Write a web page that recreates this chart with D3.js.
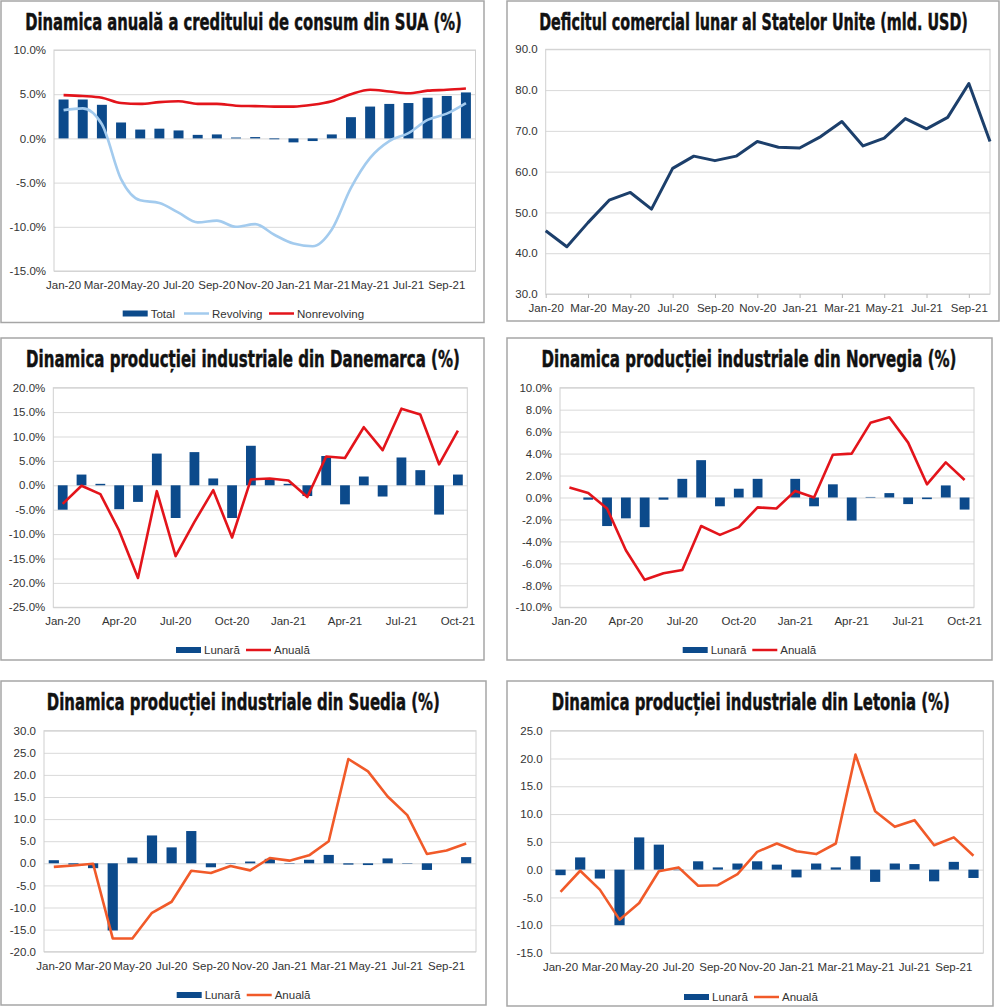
<!DOCTYPE html>
<html>
<head>
<meta charset="utf-8">
<script src="https://cdn.jsdelivr.net/npm/d3@7"></script>
<style>
body { margin: 0; background: #fff; }
text { font-family: "Liberation Sans", Arial, sans-serif; }
.title { font-family: "Liberation Sans Narrow", "DejaVu Sans Condensed", "Liberation Sans", sans-serif; font-weight: bold; fill: #111; }
</style>
</head>
<body>
<svg id="chart" width="1000" height="1007"></svg>
<script>
// months shown on every chart (Jan-20 .. Oct-21)
const months = ["Jan-20","Feb-20","Mar-20","Apr-20","May-20","Jun-20","Jul-20","Aug-20","Sep-20","Oct-20","Nov-20","Dec-20",
                "Jan-21","Feb-21","Mar-21","Apr-21","May-21","Jun-21","Jul-21","Aug-21","Sep-21","Oct-21"]

// SUA - credit de consum, % an/an
const usTotal = [4.4, 4.4, 3.8, 1.8, 1.0, 1.1, 0.9, 0.4, 0.45, 0.1, 0.15, -0.1, -0.45, -0.3, 0.45, 2.4, 3.6, 3.9, 4.0, 4.6, 4.8, 5.2]
const usRevolving = [3.2, 3.4, 1.6, -4.6, -7.0, -7.3, -8.4, -9.5, -9.3, -10.0, -9.7, -10.9, -11.9, -12.2, -10.3, -5.6, -2.2, -0.3, 0.6, 2.1, 2.8, 4.0]
const usNonrevolving = [4.9, 4.8, 4.6, 4.0, 3.9, 4.1, 4.2, 3.9, 3.9, 3.7, 3.65, 3.6, 3.6, 3.8, 4.2, 5.0, 5.5, 5.3, 5.1, 5.4, 5.5, 5.65]

// SUA - deficit comercial lunar, mld. USD
const usDeficit = [45.5, 41.6, 47.5, 53.0, 54.9, 50.8, 60.8, 63.8, 62.7, 63.8, 67.4, 66.0, 65.8, 68.6, 72.3, 66.3, 68.2, 73.0, 70.5, 73.3, 81.6, 67.4]

// productia industriala, lunar / anual
const dkMonthly = [-5.0, 2.2, 0.3, -4.9, -3.4, 6.5, -6.7, 6.8, 1.4, -6.7, 8.1, 1.2, 0.3, -2.2, 6.0, -3.9, 1.8, -2.3, 5.7, 3.1, -6.0, 2.2]
const dkAnnual = [-3.8, -0.1, -1.8, -9.3, -19.0, -1.2, -14.5, -7.5, -1.0, -10.7, 1.2, 1.4, 1.0, -2.4, 5.9, 5.6, 11.9, 7.2, 15.7, 14.5, 4.3, 11.2]

const noMonthly = [0.0, -0.2, -2.6, -1.9, -2.7, -0.2, 1.7, 3.4, -0.8, 0.8, 1.7, 0.0, 1.7, -0.8, 1.2, -2.1, 0.05, 0.4, -0.6, -0.15, 1.1, -1.1]
const noAnnual = [0.9, 0.4, -1.0, -4.8, -7.5, -6.9, -6.6, -2.6, -3.4, -2.7, -0.9, -1.0, 0.6, 0.0, 3.9, 4.0, 6.8, 7.3, 5.0, 1.2, 3.2, 1.6]

const seMonthly = [0.7, -0.3, -1.1, -15.2, 1.3, 6.3, 3.6, 7.3, -0.9, -0.1, 0.4, 1.0, -0.1, 0.8, 1.9, -0.3, -0.4, 1.1, -0.1, -1.5, 0.0, 1.4]
const seAnnual = [-0.8, -0.5, -0.1, -17.0, -17.0, -11.2, -8.7, -1.7, -2.2, -0.6, -1.6, 1.2, 0.6, 1.8, 5.0, 23.6, 20.8, 15.1, 10.9, 2.1, 2.9, 4.5]

const lvMonthly = [-1.0, 2.2, -1.6, -10.0, 5.8, 4.5, -0.1, 1.5, 0.4, 1.1, 1.5, 0.9, -1.4, 1.1, 0.4, 2.4, -2.2, 1.1, 1.0, -2.1, 1.4, -1.5]
const lvAnnual = [-4.0, -0.2, -3.6, -9.0, -6.0, -0.3, 0.4, -2.9, -2.8, -0.8, 3.2, 4.7, 3.3, 2.8, 4.7, 20.7, 10.5, 7.7, 8.9, 4.4, 5.8, 2.5]

const navy = "#0c4a8b"
const red = "#e3141b"
const orange = "#f15a29"
const lightBlue = "#a3cbee"
const lineNavy = "#1c3f6b"

const pct = d => d.toFixed(1) + "%"
const num = d => d.toFixed(1)

const svg = d3.select("#chart")

const panels = [
  { box: [1, 1, 483, 321.5], title: "Dinamica anuală a creditului de consum din SUA (%)", tx: 243.5, ty: 29.5, tw: 437,
    plot: [54, 50, 475.5, 271], dom: [-15, 10], step: 5, fmt: pct, every: 2,
    bars: usTotal, lines: [{ v: usRevolving, c: lightBlue, smooth: true }, { v: usNonrevolving, c: red, smooth: true }],
    legY: 313.5, legend: [{ x: 122.7, t: "Total", c: navy, bar: true }, { x: 184, t: "Revolving", c: lightBlue }, { x: 269, t: "Nonrevolving", c: red }] },
  { box: [507, 1, 492, 320], title: "Deficitul comercial lunar al Statelor Unite (mld. USD)", tx: 753.5, ty: 29.5, tw: 429,
    plot: [545.7, 49.3, 990, 294], dom: [30, 90], step: 10, fmt: num, every: 2, point: true,
    lines: [{ v: usDeficit, c: lineNavy }] },
  { box: [1, 338, 483, 322], title: "Dinamica producției industriale din Danemarca (%)", tx: 243, ty: 366.5, tw: 434,
    plot: [53.3, 387.7, 467.3, 607.3], dom: [-25, 20], step: 5, fmt: pct, every: 3,
    bars: dkMonthly, lines: [{ v: dkAnnual, c: red }],
    legY: 650, legend: [{ x: 176, t: "Lunară", c: navy, bar: true }, { x: 246, t: "Anuală", c: red }] },
  { box: [507, 338, 485, 322], title: "Dinamica producției industriale din Norvegia (%)", tx: 749, ty: 366.5, tw: 415,
    plot: [560, 387.7, 974, 607.3], dom: [-10, 10], step: 2, fmt: pct, every: 3,
    bars: noMonthly, lines: [{ v: noAnnual, c: red }],
    legY: 650, legend: [{ x: 682.7, t: "Lunară", c: navy, bar: true }, { x: 752.3, t: "Anuală", c: red }] },
  { box: [1, 681, 485, 324], title: "Dinamica producției industriale din Suedia (%)", tx: 243.3, ty: 709.5, tw: 393,
    plot: [44, 730.7, 476, 951.7], dom: [-20, 30], step: 5, fmt: num, every: 2,
    bars: seMonthly, lines: [{ v: seAnnual, c: orange }],
    legY: 995, legend: [{ x: 176.7, t: "Lunară", c: navy, bar: true }, { x: 246.7, t: "Anuală", c: orange }] },
  { box: [507, 681, 486, 325], title: "Dinamica producției industriale din Letonia (%)", tx: 750.8, ty: 709.5, tw: 398,
    plot: [550.7, 730.7, 983.3, 953], dom: [-15, 25], step: 5, fmt: num, every: 2,
    bars: lvMonthly, lines: [{ v: lvAnnual, c: orange }],
    legY: 997, legend: [{ x: 684, t: "Lunară", c: navy, bar: true }, { x: 754, t: "Anuală", c: orange }] }
]

panels.forEach(p => drawPanel(p))

function drawPanel(p) {
  const g = svg.append("g")
  const [x0, y0, x1, y1] = p.plot

  // frame
  g.append("rect")
    .attr("x", p.box[0]).attr("y", p.box[1])
    .attr("width", p.box[2]).attr("height", p.box[3])
    .attr("fill", "#fff").attr("stroke", "#a6a6a6").attr("stroke-width", 1.5)

  // title: squeeze horizontally to the width of the condensed original
  const title = g.append("text").attr("class", "title")
    .attr("x", 0).attr("y", 0)
    .attr("text-anchor", "middle")
    .attr("font-size", 23)
    .attr("stroke", "#111").attr("stroke-width", 0.45)
    .text(p.title)
  const natural = title.node().getComputedTextLength()
  title.attr("transform", `translate(${p.tx},${p.ty}) scale(${p.tw / natural},1)`)

  const y = d3.scaleLinear().domain(p.dom).range([y1, y0])
  const yTicks = d3.range(p.dom[0], p.dom[1] + p.step / 2, p.step)

  let x, cx
  if (p.point) {
    x = d3.scalePoint().domain(months).range([x0, x1])
    cx = d => x(d)
  } else {
    x = d3.scaleBand().domain(months).range([x0, x1]).paddingInner(0.48).paddingOuter(0.24)
    cx = d => x(d) + x.bandwidth() / 2
  }

  // grid + y labels
  const yAxis = g.append("g")
    .attr("transform", `translate(${x0},0)`)
    .call(d3.axisLeft(y).tickValues(yTicks).tickFormat(p.fmt).tickSize(-(x1 - x0)).tickPadding(8))
  yAxis.select(".domain").remove()
  yAxis.selectAll(".tick line").attr("stroke", "#d9d9d9").attr("stroke-width", 1)
  yAxis.selectAll(".tick text").attr("fill", "#333").attr("font-size", 11.5)
    .attr("font-family", "'Liberation Sans', Arial, sans-serif")

  // plot border
  g.append("rect")
    .attr("x", x0).attr("y", y0).attr("width", x1 - x0).attr("height", y1 - y0)
    .attr("fill", "none").attr("stroke", "#d0d0d0").attr("stroke-width", 1)

  // x labels
  const shown = months.filter((m, i) => i % p.every === 0)
  const xAxis = g.append("g")
    .attr("transform", `translate(0,${y1})`)
    .call(d3.axisBottom(x).tickValues(shown).tickSize(p.point ? 4 : 0).tickPadding(p.point ? 6 : 10))
  xAxis.select(".domain").remove()
  xAxis.selectAll(".tick line").attr("stroke", "#bbb")
  xAxis.selectAll(".tick text").attr("fill", "#333").attr("font-size", 11.5)
    .attr("font-family", "'Liberation Sans', Arial, sans-serif")

  // bars
  if (p.bars) {
    g.append("g").selectAll("rect")
      .data(p.bars)
      .join("rect")
      .attr("x", (d, i) => x(months[i]))
      .attr("width", x.bandwidth())
      .attr("y", d => y(Math.max(0, d)))
      .attr("height", d => Math.abs(y(d) - y(0)))
      .attr("fill", navy)
  }

  // lines
  p.lines.forEach(s => {
    const line = d3.line()
      .x((d, i) => cx(months[i]))
      .y(d => y(d))
      .curve(s.smooth ? d3.curveMonotoneX : d3.curveLinear)
    g.append("path")
      .datum(s.v)
      .attr("d", line)
      .attr("fill", "none")
      .attr("stroke", s.c)
      .attr("stroke-width", p.point ? 3 : 2.6)
      .attr("stroke-linejoin", "round")
  })

  // legend
  if (p.legend) {
    const lg = g.append("g").attr("transform", `translate(0,${p.legY})`)
    p.legend.forEach(it => {
      if (it.bar) {
        lg.append("rect").attr("x", it.x).attr("y", -3).attr("width", 25).attr("height", 6).attr("fill", it.c)
      } else {
        lg.append("line").attr("x1", it.x).attr("x2", it.x + 25).attr("stroke", it.c).attr("stroke-width", 2.5)
      }
      lg.append("text").attr("x", it.x + 28).attr("dy", "0.36em")
        .attr("font-size", 11.5).attr("fill", "#333").text(it.t)
    })
  }
}
</script>
</body>
</html>
